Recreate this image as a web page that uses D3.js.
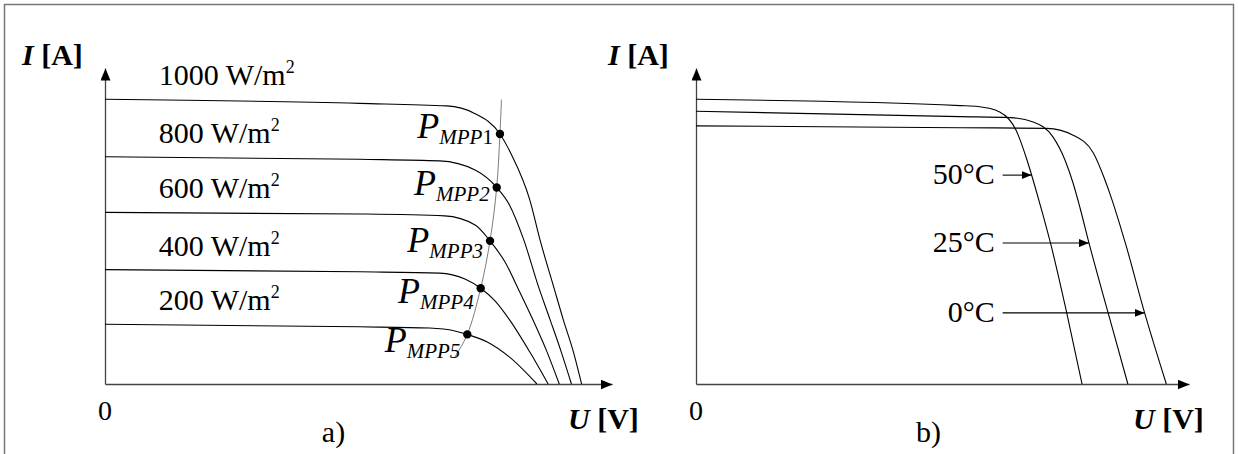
<!DOCTYPE html>
<html>
<head>
<meta charset="utf-8">
<script src="https://cdn.jsdelivr.net/npm/d3@7"></script>
<style>
  body { margin: 0; background: #fff; }
</style>
</head>
<body>
<div id="chart"></div>
<script>
// ---- data: U [V], I [A] (arbitrary 0-50 V, 0-10 A frame) ----

// panel a) irradiance curves
var irradianceLabels = ["1000", "800", "600", "400", "200"];
var curve1000 = [[0, 9.01], [25.1, 8.88], [33.7, 8.80], [36.4, 8.57], [38.95, 7.91], [40.1, 7.25], [41.9, 5.82], [42.9, 4.56], [44.2, 3.13], [45.2, 2.03], [46.2, 1.01], [47.0, 0]];
var curve800 = [[0, 7.19], [25.1, 7.11], [33.0, 7.06], [36.5, 6.77], [38.63, 6.22], [39.9, 5.66], [41.3, 4.56], [42.7, 3.13], [43.9, 2.03], [45.0, 1.01], [46.0, 0]];
var curve600 = [[0, 5.43], [25.1, 5.38], [33.5, 5.32], [36.5, 5.03], [37.97, 4.53], [39.45, 3.86], [40.9, 2.91], [42.2, 2.03], [43.6, 1.01], [44.8, 0]];
var curve400 = [[0, 3.62], [25.1, 3.55], [33.0, 3.51], [35.5, 3.32], [37.05, 3.03], [38.46, 2.63], [39.9, 2.03], [41.9, 1.01], [43.7, 0]];
var curve200 = [[0, 1.89], [25.1, 1.81], [32.0, 1.77], [34.5, 1.68], [35.73, 1.57], [37.7, 1.33], [39.9, 0.85], [42.6, 0]];
var irradianceCurves = [curve1000, curve800, curve600, curve400, curve200];

// maximum power points and the thin locus through them
var mppNames = ["1", "2", "3", "4", "5"];
var mppPoints = [[38.95, 7.91], [38.63, 6.22], [37.97, 4.53], [37.05, 3.03], [35.73, 1.57]];
var mppLocusEnds = [[39.1, 9.0], [34.5, 0.85]];

// panel b) temperature curves
var tempLabels = ["50°C", "25°C", "0°C"];
var curve50 = [[0, 9.01], [26.8, 8.81], [28.6, 8.78], [30.8, 8.61], [32.45, 8.04], [33.57, 7.09], [34.48, 6.14], [35.19, 5.35], [36.0, 4.40], [37.6, 2.25], [39.15, 0]];
var curve25 = [[0, 8.63], [26.8, 8.46], [31.85, 8.43], [34.2, 8.29], [36.2, 7.82], [37.42, 7.09], [38.24, 6.36], [38.95, 5.57], [39.86, 4.46], [41.8, 2.25], [43.8, 0]];
var curve0 = [[0, 8.17], [26.8, 8.11], [35.6, 8.09], [38.2, 7.88], [40.3, 7.31], [41.4, 6.52], [42.2, 5.82], [42.9, 5.13], [43.6, 4.40], [45.5, 2.25], [47.7, 0]];
var tempCurves = [curve50, curve25, curve0];
var tempArrowI = [6.61, 4.46, 2.25];

// ---- layout ----
var svgWidth = 1238;
var svgHeight = 454;
var axisBottom = 384;
var axisTop = 68;
var serif = "'Liberation Serif', Tinos, 'Times New Roman', 'DejaVu Serif', serif";

var panels = [
  { x0: 105, x1: 612, yLabelX: 22, xLabelX: 568, caption: "a)", captionX: 333.5 },
  { x0: 696, x1: 1189, yLabelX: 608, xLabelX: 1133, caption: "b)", captionX: 928.5 }
];

var svg = d3.select("#chart")
  .append("svg")
  .attr("width", svgWidth)
  .attr("height", svgHeight)
  .attr("font-family", serif);

// helper so every label gets the serif face explicitly
function addText(x, y, size) {
  return svg.append("text")
    .attr("x", x)
    .attr("y", y)
    .attr("font-family", serif)
    .attr("font-size", size + "px")
    .attr("fill", "#000");
}

// frame
svg.append("rect")
  .attr("x", 4.5)
  .attr("y", 4.5)
  .attr("width", 1229)
  .attr("height", 470)
  .attr("fill", "none")
  .attr("stroke", "#777")
  .attr("stroke-width", 1.5);

// arrow heads
var defs = svg.append("defs");
defs.append("marker")
  .attr("id", "axisArrow")
  .attr("viewBox", "0 0 12 10")
  .attr("refX", 12)
  .attr("refY", 5)
  .attr("markerWidth", 12)
  .attr("markerHeight", 10)
  .attr("markerUnits", "userSpaceOnUse")
  .attr("orient", "auto")
  .append("path")
  .attr("d", "M0,0L12,5L0,10Z")
  .attr("fill", "#000");

defs.append("marker")
  .attr("id", "labelArrow")
  .attr("viewBox", "0 0 10 8")
  .attr("refX", 10)
  .attr("refY", 4)
  .attr("markerWidth", 10)
  .attr("markerHeight", 8)
  .attr("markerUnits", "userSpaceOnUse")
  .attr("orient", "auto")
  .append("path")
  .attr("d", "M0,0L10,4L0,8Z")
  .attr("fill", "#000");

// build the two panels
var scales = panels.map(function(p) {
  var x = d3.scaleLinear().domain([0, 50]).range([p.x0, p.x1]);
  var y = d3.scaleLinear().domain([0, 10]).range([axisBottom, axisTop]);

  var gx = svg.append("g")
    .attr("transform", `translate(0, ${axisBottom})`)
    .call(d3.axisBottom(x).tickValues([]).tickSizeOuter(0));
  var gy = svg.append("g")
    .attr("transform", `translate(${p.x0}, 0)`)
    .call(d3.axisLeft(y).tickValues([]).tickSizeOuter(0));

  [gx, gy].forEach(function(g) {
    g.select(".domain")
      .attr("stroke", "#444")
      .attr("stroke-width", 1.3)
      .attr("marker-end", "url(#axisArrow)");
  });

  // axis titles
  var yt = addText(p.yLabelX, 65, 30).attr("font-weight", "bold");
  yt.append("tspan").attr("font-style", "italic").text("I");
  yt.append("tspan").text(" [A]");

  var xt = addText(p.xLabelX, 429, 30).attr("font-weight", "bold");
  xt.append("tspan").attr("font-style", "italic").text("U");
  xt.append("tspan").text(" [V]");

  addText(p.x0, 420, 28)
    .attr("text-anchor", "middle")
    .text("0");

  addText(p.captionX, 442, 30)
    .attr("text-anchor", "middle")
    .text(p.caption);

  return { x: x, y: y };
});

// ---- panel a ----
var xa = scales[0].x;
var ya = scales[0].y;
var lineA = d3.line()
  .x(d => xa(d[0]))
  .y(d => ya(d[1]))
  .curve(d3.curveMonotoneX);

svg.append("g")
  .selectAll("path")
  .data(irradianceCurves)
  .enter()
  .append("path")
  .attr("d", lineA)
  .attr("fill", "none")
  .attr("stroke", "#000")
  .attr("stroke-width", 1.1);

// thin MPP locus
var locus = [mppLocusEnds[0]].concat(mppPoints, [mppLocusEnds[1]]);
svg.append("path")
  .attr("d", d3.line()
    .x(d => xa(d[0]))
    .y(d => ya(d[1]))
    .curve(d3.curveCatmullRom.alpha(0.5))(locus))
  .attr("fill", "none")
  .attr("stroke", "#444")
  .attr("stroke-width", 0.7);

svg.append("g")
  .selectAll("circle")
  .data(mppPoints)
  .enter()
  .append("circle")
  .attr("cx", d => xa(d[0]))
  .attr("cy", d => ya(d[1]))
  .attr("r", 4.2)
  .attr("fill", "#000");

// irradiance labels
irradianceCurves.forEach(function(c, i) {
  var t = addText(xa(5.3), ya(c[0][1]) - 14, 30);
  t.append("tspan").text(irradianceLabels[i] + " W/m");
  t.append("tspan")
    .attr("font-size", "18px")
    .attr("dy", -12)
    .text("2");
});

// MPP labels
mppPoints.forEach(function(d, i) {
  var t = addText(xa(d[0]) - 7, ya(d[1]) + 4 + i * 3.5, 36)
    .attr("text-anchor", "end")
    .attr("font-style", "italic");
  t.append("tspan").text("P");
  t.append("tspan")
    .attr("font-size", "21px")
    .attr("dy", 6)
    .text("MPP");
  t.append("tspan")
    .attr("font-size", "21px")
    .attr("font-style", i === 0 ? "normal" : "italic")
    .text(mppNames[i]);
});

// ---- panel b ----
var xb = scales[1].x;
var yb = scales[1].y;
var lineB = d3.line()
  .x(d => xb(d[0]))
  .y(d => yb(d[1]))
  .curve(d3.curveMonotoneX);

var tempPaths = svg.append("g")
  .selectAll("path")
  .data(tempCurves)
  .enter()
  .append("path")
  .attr("d", lineB)
  .attr("fill", "none")
  .attr("stroke", "#000")
  .attr("stroke-width", 1.1);

// find where a curve crosses a given pixel height
function crossingX(pathNode, py) {
  var lo = 0, hi = pathNode.getTotalLength();
  for (var k = 0; k < 40; k++) {
    var mid = (lo + hi) / 2;
    if (pathNode.getPointAtLength(mid).y < py) lo = mid; else hi = mid;
  }
  return pathNode.getPointAtLength((lo + hi) / 2).x;
}

tempPaths.each(function(c, i) {
  var py = yb(tempArrowI[i]);
  addText(xb(30.3), py + 9, 30)
    .attr("text-anchor", "end")
    .text(tempLabels[i]);
  svg.append("line")
    .attr("x1", xb(31.1))
    .attr("x2", crossingX(this, py))
    .attr("y1", py)
    .attr("y2", py)
    .attr("stroke", "#000")
    .attr("stroke-width", 1.1)
    .attr("marker-end", "url(#labelArrow)");
});
</script>
</body>
</html>
